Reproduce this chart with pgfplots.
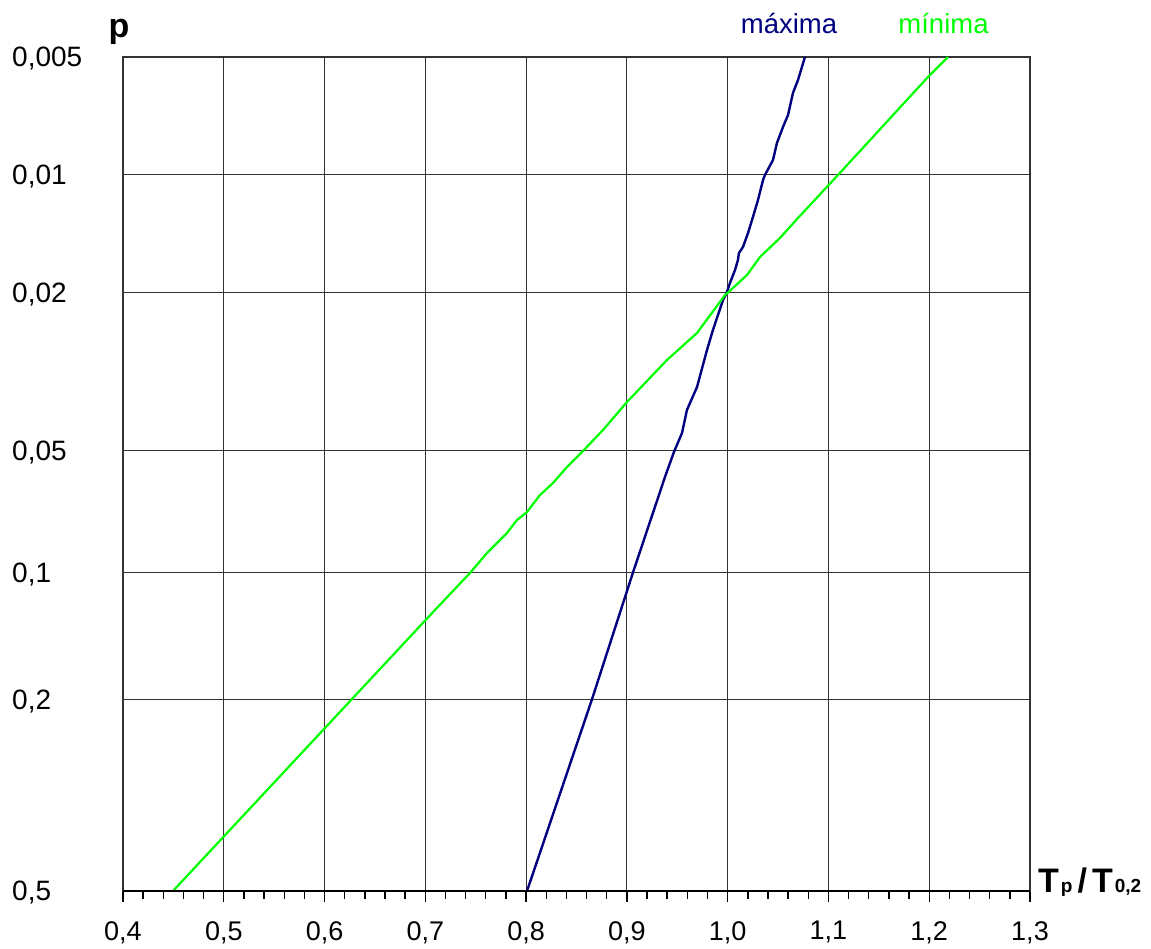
\documentclass[border=0pt]{standalone}
\usepackage{pgfplots}
\pgfplotsset{compat=1.18}
\usepackage{fontspec}
\setmainfont{Liberation Sans}
\definecolor{maxblue}{RGB}{0,0,128}
\definecolor{mingreen}{RGB}{0,255,0}

\pgfplotstableread{
x y
0.8009 0.3665
0.8654 1.5000
0.9061 2.2500
0.9378 2.8135
0.9467 2.9612
0.9547 3.0735
0.9596 3.2095
0.9696 3.3454
0.9795 3.5641
0.9854 3.6823
0.9954 3.8596
0.9990 3.9019
1.0023 3.9601
1.0073 4.0369
1.0102 4.0960
1.0112 4.1374
1.0152 4.1729
1.0202 4.2556
1.0251 4.3502
1.0301 4.4507
1.0351 4.5689
1.0370 4.5984
1.0450 4.6871
1.0489 4.7876
1.0549 4.8821
1.0599 4.9531
1.0648 5.0831
1.0698 5.1599
1.0767 5.2958
}\maxima

\pgfplotstableread{
x y
0.4496 0.3665
0.7096 2.0274
0.7443 2.2460
0.7612 2.3643
0.7810 2.4825
0.7910 2.5593
0.8009 2.6066
0.8138 2.7071
0.8267 2.7780
0.8406 2.8725
0.8555 2.9612
0.8763 3.0912
0.9001 3.2567
0.9398 3.5050
0.9696 3.6646
0.9974 3.8892
1.0000 3.9019
1.0192 4.0074
1.0321 4.1138
1.0519 4.2261
1.0698 4.3443
1.1095 4.5984
1.1988 5.1777
1.2186 5.2958
}\minima

\begin{document}
\begin{tikzpicture}[x=1pt,y=1pt]
\begin{axis}[
  at={(0,0)}, anchor=south west,
  scale only axis, width=907pt, height=834pt,
  xmin=0.4, xmax=1.3, ymin=0.366513, ymax=5.295812,
  xtick={0.4,0.5,0.6,0.7,0.8,0.9,1.0,1.1,1.2,1.3},
  xticklabels={{0,4},{0,5},{0,6},{0,7},{0,8},{0,9},{1,0},{1,1},{1,2},{1,3}},
  ytick={0.366513,1.499940,2.250367,2.970195,3.901939,4.600149,5.295812},
  yticklabels={{0,5},{0,2},{0,1},{0,05},{0,02},{0,01},{0,005}},
  minor x tick num=4,
  xtick pos=bottom, ytick pos=left,
  tick align=outside,
  major tick length=11pt, minor tick length=8pt,
  x tick style={black, line width=1.4pt},
  y tick style={draw=none},
  grid=major,
  major grid style={black!80, line width=1.2pt},
  axis line style={black!80, line width=1.6pt},
  tick label style={inner sep=0pt},
  xticklabel style={font=\fontsize{27}{32}\selectfont, anchor=north, yshift=-19pt},
  yticklabel style={font=\fontsize{28}{32}\selectfont, anchor=west, xshift=-100pt, yshift=-2pt},
]
\addplot[maxblue, line width=2.4pt, no markers] table[x=x,y=y] {\maxima};
\addplot[mingreen, line width=2.2pt, no markers] table[x=x,y=y] {\minima};
\end{axis}
\draw[black, line width=2.6pt] (0,0) -- (907,0);
\node[anchor=base, inner sep=0pt, font=\bfseries\fontsize{34}{34}\selectfont] at (-4,853) {p};
\node[anchor=base, inner sep=0pt, text=maxblue, font=\fontsize{27.5}{27.5}\selectfont] at (666,857) {máxima};
\node[anchor=base, inner sep=0pt, text=mingreen, font=\fontsize{27.5}{27.5}\selectfont] at (820.5,857) {mínima};
\node[anchor=base west, inner sep=0pt, font=\bfseries\fontsize{34}{34}\selectfont] at (915,-2) {T\hspace{2pt}{\fontsize{19}{19}\selectfont p}\hspace{5pt}/\hspace{5pt}T\hspace{2pt}{\fontsize{19}{19}\selectfont 0,2}};
\path[use as bounding box] (-123,-58) rectangle (1028,891);
\end{tikzpicture}
\end{document}
